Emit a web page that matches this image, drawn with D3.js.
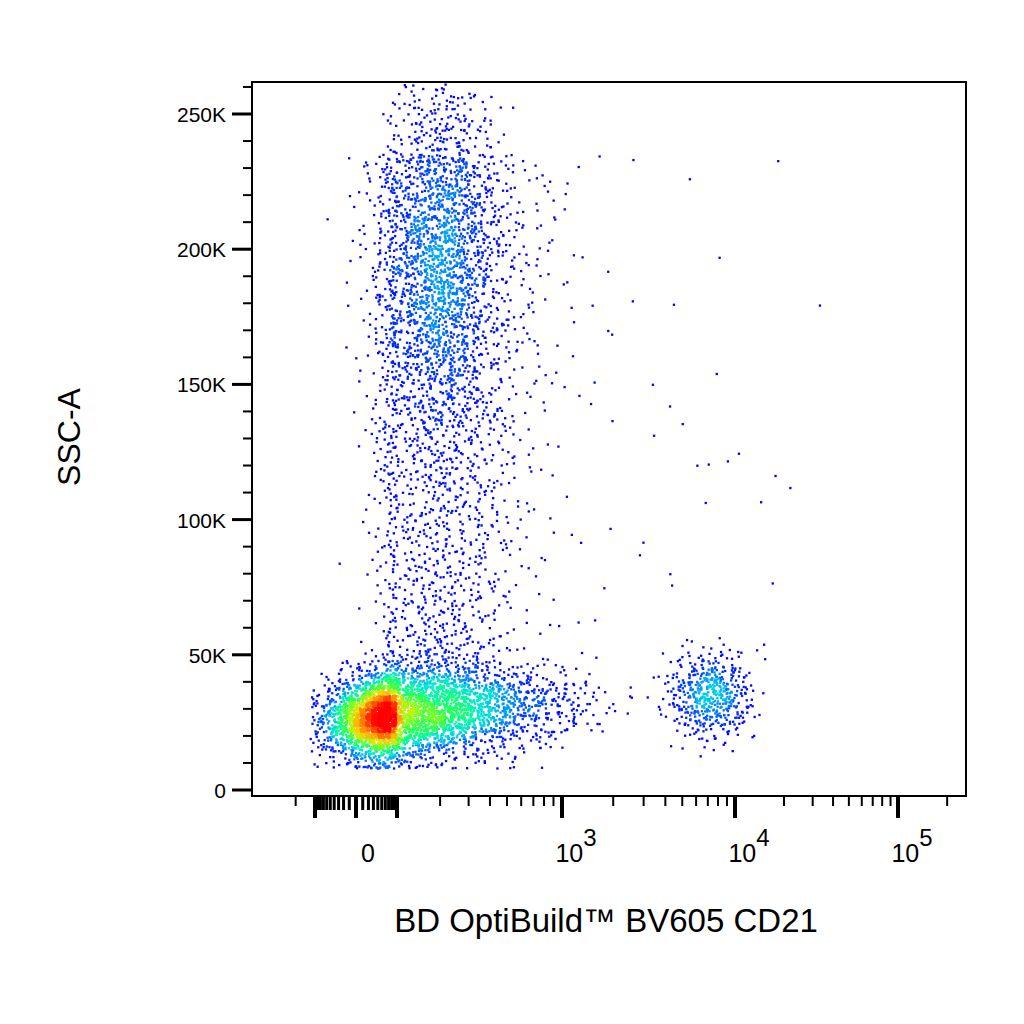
<!DOCTYPE html><html><head><meta charset="utf-8">
<script src="https://d3js.org/d3.v7.min.js"></script>
<style>body{margin:0;background:#fff}text{font-family:"Liberation Sans",Arial,sans-serif}</style></head><body>
<svg id="c" width="1024" height="1024"></svg>
<script>
// Populations: centre (x value, y value), spread (x in log-decades, y in value), count
const popName = ["lymph","lymph2","columnLow","columnHigh","cd21pos","tail","sparse"];
const popCX   = [40, 150, 200, 200, 7200, 500, 3000];
const popCY   = [26000, 30000, 90000, 195000, 35000, 32000, 130000];
const popSX   = [0.32, 0.25, 0.17, 0.15, 0.12, 0.25, 0.55];
const popSY   = [7500, 9000, 40000, 35000, 8000, 7000, 55000];
const popN    = [2400, 1500, 1700, 1900, 520, 500, 45];
const yTicks = [0, 50000, 100000, 150000, 200000, 250000];
const yTickLabels = ["0","50K","100K","150K","200K","250K"];
const xMajor = [-100, 0, 100, 1000, 10000, 100000];
const xLabels = [[0,"0",""],[1000,"10","3"],[10000,"10","4"],[100000,"10","5"]];

const C = 52;
const t = v => Math.sign(v)*Math.log10(1+Math.abs(v)/C);
const tinv = u => Math.sign(u)*C*(Math.pow(10,Math.abs(u))-1);
const L=252,R=966,T=82,B=796;
const tx = d3.scaleLinear().domain([-100,0,100,1000,10000,100000].map(t)).range([315,356,397,562,735,898]);
const x = v => tx(t(v));
const y = d3.scaleLinear().domain([0,250000]).range([790,114]);
const svg = d3.select("#c");

function halton(i,b){let f=1,r=0;while(i>0){f/=b;r+=f*(i%b);i=Math.floor(i/b);}return r;}
const pts=[]; let idx=1;
popN.forEach((n,p)=>{
  for(let k=0;k<n;k++,idx++){
    const u1=Math.max(1e-6,halton(idx,2)),u2=halton(idx,3),u3=Math.max(1e-6,halton(idx,5)),u4=halton(idx,7);
    const g1=Math.sqrt(-2*Math.log(u1))*Math.cos(2*Math.PI*u2);
    const g2=Math.sqrt(-2*Math.log(u3))*Math.cos(2*Math.PI*u4);
    let xv=tinv(t(popCX[p])+g1*popSX[p]);
    let yv=popCY[p]+g2*popSY[p];
    if(popName[p]==="columnLow"){yv=35000+u4*200000; xv=tinv(t(popCX[p])+g1*popSX[p]*(1+yv/250000));}
    if(popName[p].startsWith("lymph") && yv<8000) yv=8000+(8000-yv)*0.3;
    if(yv<5000||yv>261000) continue;
    const px=x(xv),py=y(yv);
    if(px<L+58||px>R-4) continue;
    pts.push([px,py]);
  }
});
const bs=6,grid=new Map();
pts.forEach(d=>{const k=Math.floor(d[0]/bs)+","+Math.floor(d[1]/bs);grid.set(k,(grid.get(k)||0)+1);});
const dens=pts.map(d=>{let s=0;for(let i=-1;i<=1;i++)for(let j=-1;j<=1;j++){s+=(grid.get((Math.floor(d[0]/bs)+i)+","+(Math.floor(d[1]/bs)+j))||0)*(i==0&&j==0?2:1);}return s;});
const mx=d3.max(dens);
const col=d3.scaleSequential(d3.interpolateRgbBasis(["#0000ff","#0000ff","#00ffff","#00ff40","#ffff00","#ff8000","#ff0000"])).domain([0,1]).clamp(true);
const order=d3.range(pts.length).sort((a,b)=>dens[a]-dens[b]);
svg.append("g").selectAll("rect").data(order).join("rect")
  .attr("x",i=>pts[i][0]-1).attr("y",i=>pts[i][1]-1).attr("width",2.3).attr("height",2.3)
  .attr("fill",i=>col(Math.min(1,Math.pow(dens[i]/(mx*0.85),0.75))));

svg.append("rect").attr("x",L).attr("y",T).attr("width",R-L).attr("height",B-T).attr("fill","none").attr("stroke","#000").attr("stroke-width",2);

const ya=svg.append("g").attr("transform",`translate(${L},0)`);
d3.range(0,260001,10000).forEach(v=>{const maj=v%50000===0;
  ya.append("line").attr("x1",0).attr("x2",maj?-20:-9).attr("y1",y(v)).attr("y2",y(v)).attr("stroke","#000").attr("stroke-width",maj?3:2);});
yTicks.forEach((v,i)=>ya.append("text").attr("x",-26).attr("y",y(v)+8).attr("text-anchor","end").attr("font-size",21).text(yTickLabels[i]));

const xa=svg.append("g").attr("transform",`translate(0,${B})`);
const minors=[-200];
[-1,1].forEach(s=>{for(let m=10;m<100;m+=10)minors.push(s*m);});
for(let m=2;m<10;m++){minors.push(m*100,m*1000,m*10000);}
minors.push(200000);
minors.forEach(v=>{const px=x(v);if(px<L||px>R)return;
  xa.append("line").attr("x1",px).attr("x2",px).attr("y1",0).attr("y2",Math.abs(v)<100?14:10).attr("stroke","#000").attr("stroke-width",Math.abs(v)<100?3:2);});
xMajor.forEach(v=>xa.append("line").attr("x1",x(v)).attr("x2",x(v)).attr("y1",0).attr("y2",22).attr("stroke","#000").attr("stroke-width",4));
xLabels.forEach(([v,b,e])=>{const g=xa.append("text").attr("x",x(v)+(e?14:12)).attr("y",66).attr("text-anchor","middle").attr("font-size",25);
  g.append("tspan").text(b); if(e) g.append("tspan").attr("dy",-16).attr("font-size",24).text(e);});

svg.append("text").attr("x",606).attr("y",932).attr("text-anchor","middle").attr("font-size",33).text("BD OptiBuild™ BV605 CD21");
svg.append("text").attr("transform","translate(80,437) rotate(-90)").attr("text-anchor","middle").attr("font-size",32).text("SSC-A");
</script></body></html>
